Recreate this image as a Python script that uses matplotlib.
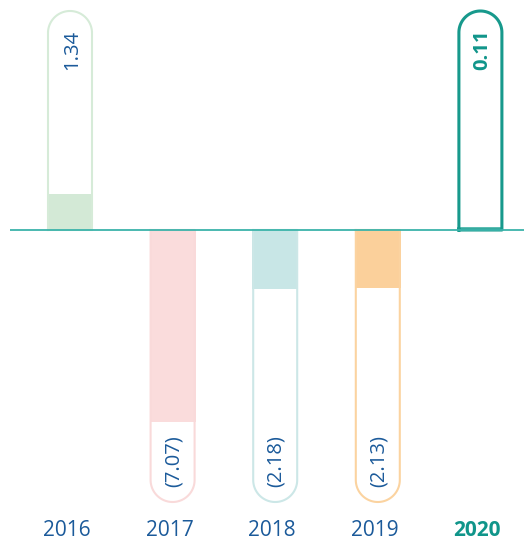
import matplotlib.pyplot as plt
import numpy as np

years = ['2016', '2017', '2018', '2019', '2020']
values = [1.34, -7.07, -2.18, -2.13, 0.11]
labels = ['1.34', '(7.07)', '(2.18)', '(2.13)', '0.11']
fill_colors = ['#d3e9d6', '#fadcdc', '#c8e6e6', '#fbd09b', '#5cbdb3']
edge_colors = ['#d6ebd8', '#f9dada', '#cce7e7', '#fbd3a0', '#17998c']
highlight = '2020'

plt.rcParams['font.family'] = ['Open Sans', 'DejaVu Sans']

px = 27.2     # pixels per unit on the value axis
step = 102.6  # pixels between tubes
x0 = 70       # pixel position of first tube
base = 230    # pixel row of zero line

fig = plt.figure(figsize=(5.24, 5.42), dpi=100)
ax = fig.add_axes([0, 0, 1, 1])
ax.set_xlim(-x0 / step, (524 - x0) / step)
ax.set_ylim(-(542 - base) / px, base / px)
ax.axis('off')


def tube(x, hw, y0, y1, ry, n=60):
    # straight sides from y0 up (or down) to a round end at y1
    sign = np.sign(y1 - y0)
    yc = y1 - sign * ry
    t = np.linspace(np.pi, 0, n)
    xs = np.concatenate([[x - hw], x + hw * np.cos(t), [x + hw], [x - hw]])
    ys = np.concatenate([[y0], yc + sign * ry * np.sin(t), [y0], [y0]])
    return xs, ys


top = (base - 11) / px
bottom = -(502 - base) / px

for i, (yr, v, lab) in enumerate(zip(years, values, labels)):
    hot = yr == highlight
    hw_px = 21.5 if hot else 22
    hw = hw_px / step
    ry = hw_px / px
    end = top if v > 0 else bottom
    xs, ys = tube(i, hw, 0, end, ry)
    ax.fill(xs, ys, facecolor='white', edgecolor='none', zorder=1)
    ax.bar(i, v, width=46 / step, color=fill_colors[i], zorder=2)
    ax.plot(xs, ys, color=edge_colors[i], lw=2.2 if hot else 1.5,
            solid_joinstyle='round', zorder=3)

    tcol = '#10958a' if hot else '#1b5a9a'
    tw = 'bold' if hot else 'normal'
    if v > 0:
        ax.text(i + 2 / step, (base - 30) / px, lab, rotation=90, ha='center',
                va='top', fontsize=14.5, color=tcol, fontweight=tw, zorder=5)
    else:
        ax.text(i + 1 / step, -(487 - base) / px, lab, rotation=90, ha='center',
                va='bottom', fontsize=14.5, color=tcol, fontweight=tw, zorder=5)
    ax.text(i - 3 / step, -(530 - base) / px, yr, ha='center', va='center',
            fontsize=15, color=tcol, fontweight=tw)

ax.plot([(10 - x0) / step, (524 - x0) / step], [0, 0], color='#3bb3aa',
        lw=1.3, zorder=4, solid_capstyle='butt')

fig.savefig('out.png', dpi=100)
